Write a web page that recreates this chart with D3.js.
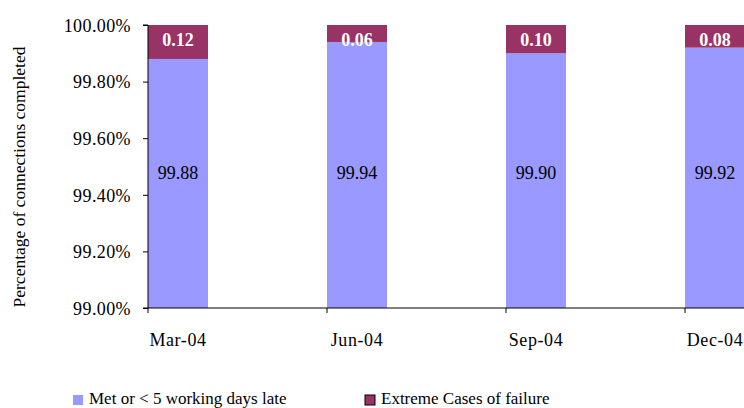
<!DOCTYPE html>
<html><head><meta charset="utf-8">
<script src="https://cdn.jsdelivr.net/npm/d3@7"></script>
<style>body{margin:0;background:#fff}svg{display:block}text{font-family:"Liberation Serif",serif;}</style>
</head><body><svg id="c" width="744" height="408"></svg>
<script>
const categories = ["Mar-04","Jun-04","Sep-04","Dec-04"];
const metValues = [99.88, 99.94, 99.90, 99.92];
const failValues = [0.12, 0.06, 0.10, 0.08];
const yTicks = [99.0, 99.2, 99.4, 99.6, 99.8, 100.0];
const seriesNames = ["Met or < 5 working days late", "Extreme Cases of failure"];
const colors = ["#9999FF", "#993366"];

const svg = d3.select("#c");
const plotLeft = 148, plotTop = 25, plotBottom = 308;
const x = d3.scaleBand().domain(categories).range([plotLeft, plotLeft + 179*4]).paddingInner(0).paddingOuter(0);
const barW = x.bandwidth() * 60/179;
const y = d3.scaleLinear().domain([99, 100]).range([plotBottom, plotTop]);

// bars
const g = svg.append("g");
categories.forEach((c, i) => {
  const x0 = x(c);
  g.append("rect").attr("x", x0).attr("width", barW)
    .attr("y", y(metValues[i])).attr("height", y(99) - y(metValues[i])).attr("fill", colors[0]);
  g.append("rect").attr("x", x0).attr("width", barW)
    .attr("y", y(metValues[i] + failValues[i])).attr("height", y(metValues[i]) - y(metValues[i] + failValues[i])).attr("fill", colors[1]);
  g.append("text").attr("x", x0 + barW/2).attr("y", y(99.5) + 12)
    .attr("text-anchor","middle").attr("font-size", 18).attr("fill","#000").text(metValues[i].toFixed(2));
  g.append("text").attr("x", x0 + barW/2).attr("y", 46)
    .attr("text-anchor","middle").attr("font-size", 18).attr("font-weight","bold").attr("fill","#fff").text(failValues[i].toFixed(2));
});

// y axis
const yAxis = d3.axisLeft(y).tickValues(yTicks).tickSize(5).tickPadding(12).tickFormat(d => d.toFixed(2) + "%");
const ya = svg.append("g").attr("transform", `translate(${plotLeft},0)`).call(yAxis);
ya.select(".domain").attr("stroke","#000").attr("d", `M-5,${plotTop}H0V${plotBottom}H-5`);
ya.selectAll(".tick line").attr("stroke","#000");
ya.selectAll(".tick text").attr("font-family","Liberation Serif").attr("font-size",18)
  .attr("letter-spacing","0.4px").attr("fill","#000").attr("dy","0.35em");

// x axis
svg.append("line").attr("x1", plotLeft).attr("x2", 744).attr("y1", plotBottom).attr("y2", plotBottom).attr("stroke","#000");
categories.forEach(c => {
  svg.append("line").attr("x1", x(c)).attr("x2", x(c)).attr("y1", plotBottom).attr("y2", plotBottom+5).attr("stroke","#000");
  svg.append("text").attr("x", x(c) + barW/2).attr("y", 346).attr("text-anchor","middle")
    .attr("font-size",18).attr("letter-spacing","0.6px").attr("fill","#000").text(c);
});

// y title
svg.append("text").attr("transform", "translate(25,177) rotate(-90)").attr("text-anchor","middle")
  .attr("font-size",17.5).attr("fill","#000").text("Percentage of connections completed");

// legend
const legX = [73, 365];
seriesNames.forEach((n, i) => {
  svg.append("rect").attr("x", legX[i]).attr("y", 395).attr("width", 10).attr("height", 10)
    .attr("fill", colors[i]).attr("stroke", i === 1 ? "#000" : "none").attr("stroke-width", 1);
  svg.append("text").attr("x", legX[i] + 16).attr("y", 404).attr("font-size",17).attr("fill","#000").text(n);
});
</script></body></html>
